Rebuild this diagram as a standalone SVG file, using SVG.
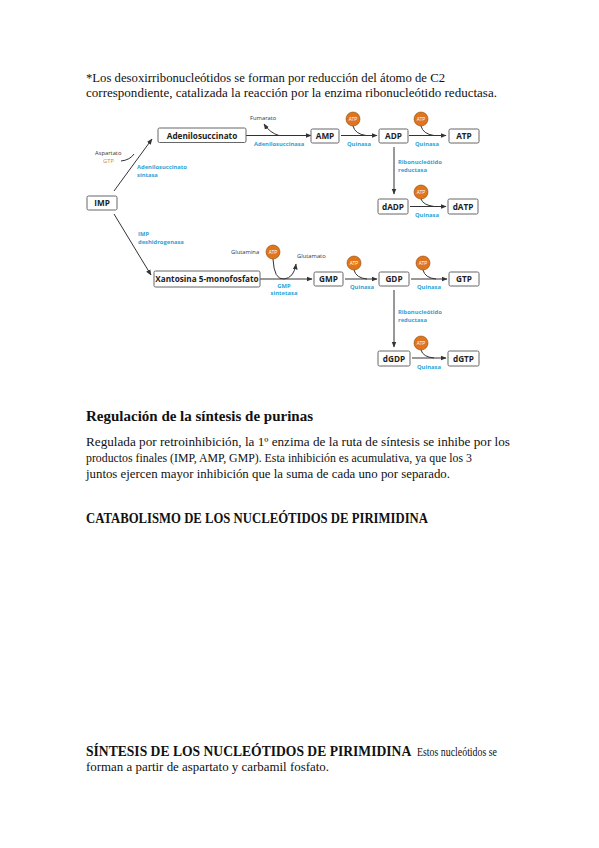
<svg xmlns="http://www.w3.org/2000/svg" width="599" height="848" viewBox="0 0 599 848">
<style>
.body{font-family:"Liberation Serif",serif;font-size:12.5px;fill:#111}
.h{font-family:"Liberation Serif",serif;font-size:15px;font-weight:bold;fill:#111}
.box{fill:#fff;stroke:#666;stroke-width:1}
.bl{font-family:"Open Sans","Liberation Sans",sans-serif;font-size:8.2px;font-weight:bold;fill:#222;text-anchor:middle}
.en{font-family:"Open Sans","Liberation Sans",sans-serif;font-size:5.8px;font-weight:bold;fill:#2aa3d6}
.sm{font-family:"Open Sans","Liberation Sans",sans-serif;font-size:5.8px;fill:#333}
.ln{fill:none;stroke:#333;stroke-width:1}
.atp circle{fill:#e0751b;stroke:#8a4a10;stroke-width:0.6}
.atp text{font-family:"Liberation Sans",sans-serif;font-size:4.5px;fill:#fff;text-anchor:middle}
</style>
<defs>
<marker id="ah" viewBox="0 0 10 10" refX="9" refY="5" markerWidth="6" markerHeight="6" orient="auto" markerUnits="userSpaceOnUse"><path d="M0,1 L10,5 L0,9 z" fill="#333"/></marker>
</defs>

<text class="body" x="86" y="82" textLength="359" lengthAdjust="spacingAndGlyphs">*Los desoxirribonucleótidos se forman por reducción del átomo de C2</text>
<text class="body" x="86" y="97" textLength="411" lengthAdjust="spacingAndGlyphs">correspondiente, catalizada la reacción por la enzima ribonucleótido reductasa.</text>

<g id="connectors">
<path class="ln" d="M114,191 L152,139" marker-end="url(#ah)"/>
<path class="ln" d="M121,161 Q130,160 134,154"/>
<path class="ln" d="M114,214 L151,275" marker-end="url(#ah)"/>
<path class="ln" d="M246,135.5 L311,135.5" marker-end="url(#ah)"/>
<path class="ln" d="M279,135.5 Q270,133 264,124" marker-end="url(#ah)"/>
<path class="ln" d="M341,135.5 L377,135.5" marker-end="url(#ah)"/>
<path class="ln" d="M353,126 Q355,134 366,135.5"/>
<path class="ln" d="M409,135.5 L446,135.5" marker-end="url(#ah)"/>
<path class="ln" d="M421,126 Q423,134 434,135.5"/>
<path class="ln" d="M394,147 L394,194" marker-end="url(#ah)"/>
<path class="ln" d="M410,206.5 L446,206.5" marker-end="url(#ah)"/>
<path class="ln" d="M421,199 Q423,205 434,206.5"/>
<path class="ln" d="M260,279 L312,279" marker-end="url(#ah)"/>
<path class="ln" d="M273,259 Q274,280 284,279 Q294,278 296,264" marker-end="url(#ah)"/>
<path class="ln" d="M345,279 L377,279" marker-end="url(#ah)"/>
<path class="ln" d="M354,270 Q356,278 367,279"/>
<path class="ln" d="M411,279 L447,279" marker-end="url(#ah)"/>
<path class="ln" d="M423,270 Q425,278 436,279"/>
<path class="ln" d="M394,290 L394,347" marker-end="url(#ah)"/>
<path class="ln" d="M412,358 L446,358" marker-end="url(#ah)"/>
<path class="ln" d="M421,350 Q423,357 434,358"/>
</g>

<g id="labels">
<text class="sm" x="95" y="155">Aspartato</text>
<text class="sm" x="103" y="163" style="fill:#c98a3a">GTP</text>
<text class="en" x="137" y="169">Adenilosuccinato</text>
<text class="en" x="137" y="177">sintasa</text>
<text class="sm" x="250" y="120">Fumarato</text>
<text class="en" x="254" y="146">Adenilosuccinasa</text>
<text class="en" x="347" y="146">Quinasa</text>
<text class="en" x="415" y="146">Quinasa</text>
<text class="en" x="398" y="164">Ribonucleótido</text>
<text class="en" x="398" y="172">reductasa</text>
<text class="en" x="415" y="217">Quinasa</text>
<text class="en" x="138" y="236">IMP</text>
<text class="en" x="138" y="244">deshidrogenasa</text>
<text class="sm" x="231" y="254">Glutamina</text>
<text class="sm" x="297" y="258">Glutamato</text>
<text class="en" x="284" y="288" text-anchor="middle">GMP</text>
<text class="en" x="284" y="295" text-anchor="middle">sintetasa</text>
<text class="en" x="350" y="289">Quinasa</text>
<text class="en" x="417" y="289">Quinasa</text>
<text class="en" x="398" y="314">Ribonucleótido</text>
<text class="en" x="398" y="322">reductasa</text>
<text class="en" x="417" y="369">Quinasa</text>
</g>

<g class="atp" id="atp1"><circle cx="353" cy="119" r="7"/><text x="353" y="120.5">ATP</text></g>
<g class="atp" id="atp2"><circle cx="421" cy="119" r="7"/><text x="421" y="120.5">ATP</text></g>
<g class="atp" id="atp3"><circle cx="421" cy="192" r="7"/><text x="421" y="193.5">ATP</text></g>
<g class="atp" id="atp4"><circle cx="273" cy="252" r="7"/><text x="273" y="253.5">ATP</text></g>
<g class="atp" id="atp5"><circle cx="354" cy="263" r="7"/><text x="354" y="264.5">ATP</text></g>
<g class="atp" id="atp6"><circle cx="423" cy="263" r="7"/><text x="423" y="264.5">ATP</text></g>
<g class="atp" id="atp7"><circle cx="421" cy="343" r="7"/><text x="421" y="344.5">ATP</text></g>

<g id="imp"><rect class="box" x="87" y="196" width="30" height="14" rx="1.5"/><text class="bl" x="102" y="206">IMP</text></g>
<g id="adenilosuccinato"><rect class="box" x="158" y="128" width="88" height="14.5" rx="1.5"/><text class="bl" x="202" y="138.5">Adenilosuccinato</text></g>
<g id="amp"><rect class="box" x="311" y="129" width="28" height="14" rx="1.5"/><text class="bl" x="325" y="139">AMP</text></g>
<g id="adp"><rect class="box" x="379" y="129" width="29" height="14" rx="1.5"/><text class="bl" x="393.5" y="139">ADP</text></g>
<g id="atpbox"><rect class="box" x="449" y="129" width="30" height="14" rx="1.5"/><text class="bl" x="464" y="139">ATP</text></g>
<g id="dadp"><rect class="box" x="378" y="199" width="30" height="15" rx="1.5"/><text class="bl" x="393" y="209.5">dADP</text></g>
<g id="datp"><rect class="box" x="448" y="199" width="30" height="15" rx="1.5"/><text class="bl" x="463" y="209.5">dATP</text></g>
<g id="xmp"><rect class="box" x="154" y="271" width="106" height="16" rx="1.5"/><text class="bl" x="207" y="282">Xantosina 5-monofosfato</text></g>
<g id="gmp"><rect class="box" x="314" y="272" width="29" height="14" rx="1.5"/><text class="bl" x="328.5" y="282">GMP</text></g>
<g id="gdp"><rect class="box" x="379" y="272" width="30" height="14" rx="1.5"/><text class="bl" x="394" y="282">GDP</text></g>
<g id="gtp"><rect class="box" x="449" y="272" width="30" height="14" rx="1.5"/><text class="bl" x="464" y="282">GTP</text></g>
<g id="dgdp"><rect class="box" x="378" y="351" width="32" height="15" rx="1.5"/><text class="bl" x="394" y="361.5">dGDP</text></g>
<g id="dgtp"><rect class="box" x="448" y="351" width="31" height="15" rx="1.5"/><text class="bl" x="463.5" y="361.5">dGTP</text></g>

<text class="h" x="86" y="421" textLength="227" lengthAdjust="spacingAndGlyphs">Regulación de la síntesis de purinas</text>
<text class="body" x="86" y="446" textLength="424" lengthAdjust="spacingAndGlyphs">Regulada por retroinhibición, la 1º enzima de la ruta de síntesis se inhibe por los</text>
<text class="body" x="86" y="462" textLength="386" lengthAdjust="spacingAndGlyphs">productos finales (IMP, AMP, GMP). Esta inhibición es acumulativa, ya que los 3</text>
<text class="body" x="86" y="478" textLength="364" lengthAdjust="spacingAndGlyphs">juntos ejercen mayor inhibición que la suma de cada uno por separado.</text>

<text class="h" x="86" y="523" textLength="342" lengthAdjust="spacingAndGlyphs">CATABOLISMO DE LOS NUCLEÓTIDOS DE PIRIMIDINA</text>

<text class="h" x="86" y="756" style="font-size:13.6px">SÍNTESIS DE LOS NUCLEÓTIDOS DE PIRIMIDINA</text>
<text class="body" x="417" y="756" textLength="80" lengthAdjust="spacingAndGlyphs">Estos nucleótidos se</text>
<text class="body" x="86" y="771" textLength="243" lengthAdjust="spacingAndGlyphs">forman a partir de aspartato y carbamil fosfato.</text>
</svg>
